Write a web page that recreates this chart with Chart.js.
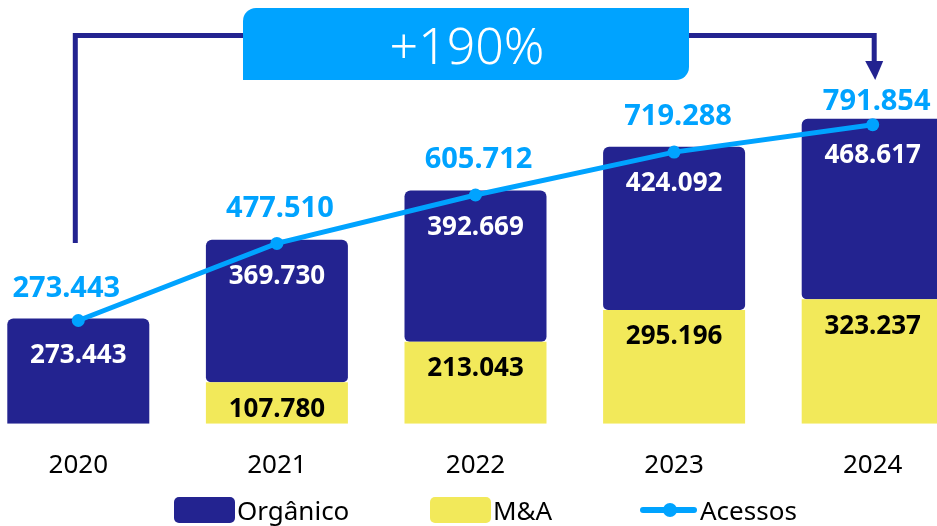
<!DOCTYPE html>
<html>
<head>
<meta charset="utf-8">
<script src="https://cdn.jsdelivr.net/npm/chart.js@4.4.1/dist/chart.umd.min.js"></script>
<style>
    html, body { margin: 0; padding: 0; background: #fff; overflow: hidden; width: 937px; height: 526px; }
    #wrap { position: absolute; left: -21px; top: 0; width: 993px; height: 507px; }
    #legend { position: absolute; left: 0; top: 497px; width: 937px; height: 26px;
              font-family: 'Noto Sans', sans-serif; font-size: 26px; color: #000; }
    .item { position: absolute; top: 0; height: 26px; display: flex; align-items: center; white-space: nowrap; }
    .box { width: 61px; height: 26px; border-radius: 5px; margin-right: 2px; }
    .lineKey { position: relative; width: 57px; height: 26px; margin-right: 3px; }
    .lineKey .bar { position: absolute; left: 0; right: 0; top: 10px; height: 6px; border-radius: 3px; }
    .lineKey .dot { position: absolute; left: 23px; top: 6px; width: 14px; height: 14px; border-radius: 50%; }
</style>
</head>
<body>
<div id="wrap"><canvas id="chart"></canvas></div>
<div id="legend"></div>
<script>
    const years = ['2020', '2021', '2022', '2023', '2024'];
    const organico = [273443, 369730, 392669, 424092, 468617];
    const mna = [null, 107780, 213043, 295196, 323237];
    const acessos = [273443, 477510, 605712, 719288, 791854];
    const growthText = '+190%';

    const NAVY = '#232390';
    const YELLOW = '#F2E95A';
    const BLUE = '#00A3FF';
    const FONT = "'Noto Sans', sans-serif";
    const SHIFT = 21; // canvas is moved 21px left of the page

    // 273443 -> "273.443"
    function fmt(n) {
        return String(n).replace(/\B(?=(\d{3})+(?!\d))/g, '.');
    }

    // Draw the value labels of every dataset
    const valueLabels = {
        id: 'valueLabels',
        afterDatasetsDraw(chart) {
            const ctx = chart.ctx;
            ctx.save();
            ctx.textAlign = 'center';
            ctx.textBaseline = 'middle';
            chart.data.datasets.forEach((ds, i) => {
                const meta = chart.getDatasetMeta(i);
                const s = ds.labelStyle;
                ctx.fillStyle = s.color;
                ctx.font = 'bold ' + s.size + 'px ' + FONT;
                meta.data.forEach((el, j) => {
                    const v = ds.data[j];
                    if (!v) return;
                    const dx = s.dx ? s.dx[j] : 0;
                    const dy = Array.isArray(s.dy) ? s.dy[j] : s.dy;
                    ctx.fillText(fmt(v), el.x + dx, el.y + dy);
                });
            });
            ctx.restore();
        }
    };

    // "+190%" box with the bracket arrow from 2020 to 2024
    const growthNote = {
        id: 'growthNote',
        afterDraw(chart) {
            const ctx = chart.ctx;
            const x = chart.scales.x;
            const xl = x.getPixelForValue(0) - 3;
            const xr = x.getPixelForValue(4) + 1.5;
            const boxL = 243 + SHIFT, boxR = 689 + SHIFT, boxT = 8, boxB = 80;
            const lineY = 35.5;

            ctx.save();
            ctx.strokeStyle = NAVY;
            ctx.lineWidth = 5;
            ctx.beginPath();
            ctx.moveTo(xl, 243);
            ctx.lineTo(xl, lineY);
            ctx.lineTo(boxL, lineY);
            ctx.moveTo(boxR, lineY);
            ctx.lineTo(xr, lineY);
            ctx.lineTo(xr, 64);
            ctx.stroke();

            ctx.fillStyle = NAVY;
            ctx.beginPath();
            ctx.moveTo(xr - 9, 61);
            ctx.lineTo(xr + 9, 61);
            ctx.lineTo(xr + 1, 80);
            ctx.closePath();
            ctx.fill();

            ctx.fillStyle = BLUE;
            ctx.beginPath();
            ctx.roundRect(boxL, boxT, boxR - boxL, boxB - boxT, [13, 0, 13, 0]);
            ctx.fill();

            ctx.fillStyle = '#fff';
            ctx.font = '300 50px ' + FONT;
            ctx.textAlign = 'center';
            ctx.textBaseline = 'alphabetic';
            ctx.fillText(growthText, (boxL + boxR) / 2 + 1, 64);
            ctx.restore();
        }
    };

    const ctx = document.getElementById('chart').getContext('2d');
    const chart = new Chart(ctx, {
        type: 'bar',
        data: {
            labels: years,
            datasets: [{
                label: 'M&A',
                data: mna,
                backgroundColor: YELLOW,
                borderSkipped: 'start',
                borderRadius: 0,
                order: 2,
                labelStyle: { color: '#000', size: 26, dy: 27 }
            }, {
                label: 'Orgânico',
                data: organico,
                backgroundColor: NAVY,
                borderSkipped: false,
                // round the bottom only where the bar sits on a yellow segment
                borderRadius: (c) => {
                    const b = mna[c.dataIndex] ? 5 : 0;
                    return { topLeft: 6, topRight: 6, bottomLeft: b, bottomRight: b };
                },
                order: 2,
                labelStyle: { color: '#fff', size: 26, dy: 37 }
            }, {
                type: 'line',
                label: 'Acessos',
                data: acessos,
                yAxisID: 'y1',
                borderColor: BLUE,
                backgroundColor: BLUE,
                borderWidth: 5,
                pointRadius: 6.5,
                pointBorderWidth: 0,
                tension: 0,
                fill: false,
                order: 1,
                labelStyle: { color: BLUE, size: 29, dy: [-32, -35, -35, -35, -23], dx: [-12, 3, 3, 4, 4] }
            }]
        },
        options: {
            responsive: true,
            maintainAspectRatio: false,
            animation: false,
            layout: { padding: 0, autoPadding: false },
            datasets: {
                bar: { categoryPercentage: 1, barPercentage: 0.715 }
            },
            plugins: {
                legend: { display: false },
                tooltip: { enabled: false }
            },
            scales: {
                x: {
                    stacked: true,
                    grid: { display: false, drawTicks: false },
                    border: { display: false },
                    ticks: { padding: 26, color: '#000', font: { family: FONT, size: 26 } }
                },
                y: { stacked: true, display: false, min: 0, max: 1100000 },
                y1: { display: false, min: 0, max: 1122000 }
            }
        },
        plugins: [valueLabels, growthNote]
    });

    // Legend built from the chart's datasets, in the reference order
    const legend = document.getElementById('legend');
    const legendOrder = [1, 0, 2];
    const legendLeft = [174, 430, 640];
    legendOrder.forEach((idx, k) => {
        const ds = chart.data.datasets[idx];
        const item = document.createElement('div');
        item.className = 'item';
        item.style.left = legendLeft[k] + 'px';
        if (ds.type === 'line') {
            item.innerHTML = '<div class="lineKey"><div class="bar" style="background:' + ds.borderColor +
                '"></div><div class="dot" style="background:' + ds.borderColor + '"></div></div>';
        } else {
            item.innerHTML = '<div class="box" style="background:' + ds.backgroundColor + '"></div>';
        }
        const t = document.createElement('span');
        t.textContent = ds.label;
        item.appendChild(t);
        legend.appendChild(item);
    });
</script>
</body>
</html>
